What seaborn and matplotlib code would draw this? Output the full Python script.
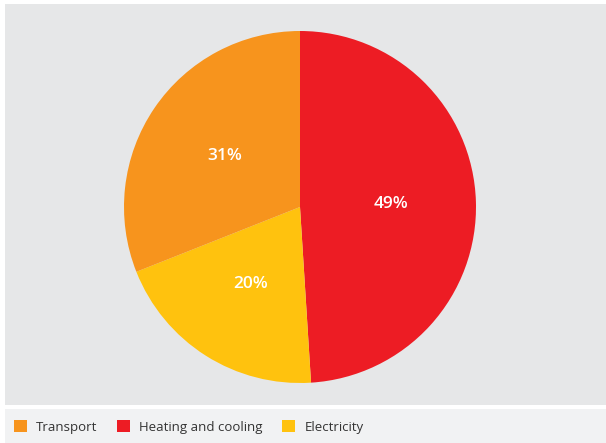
import matplotlib
matplotlib.use("Agg")
import matplotlib.pyplot as plt
from matplotlib.patches import Patch, Rectangle
import seaborn as sns

# data, in pie order (clockwise from 12 o'clock)
pie_labels = ["Heating and cooling", "Electricity", "Transport"]
pie_values = [49, 20, 31]
pie_colors = ["#ed1c24", "#ffc20e", "#f7941d"]

legend_order = ["Transport", "Heating and cooling", "Electricity"]

sns.set_theme(style="white")
plt.rcParams["font.family"] = ["Open Sans", "DejaVu Sans"]

W, H = 606, 443
fig = plt.figure(figsize=(W / 100, H / 100), dpi=100)
fig.patch.set_facecolor("white")

# legend strip background
fig.patches.append(Rectangle((5 / W, 0), 1 - 5 / W, (H - 409) / H,
                             transform=fig.transFigure, facecolor="#f1f2f3",
                             edgecolor="none", zorder=0))

# pie panel: pixels x 5..606, y 4..405
ax = fig.add_axes([5 / W, (H - 405) / H, (W - 5) / W, 401 / H])

cx, cy, r = 300, 207, 176
wedges, texts, autotexts = ax.pie(
    pie_values, colors=pie_colors, startangle=90, counterclock=False,
    autopct="%d%%", pctdistance=0.52,
    wedgeprops=dict(linewidth=0),
    textprops=dict(color="white", fontsize=12.5, fontweight="semibold"))

ax.set_frame_on(True)
ax.set_facecolor("#e6e7e8")
ax.set_aspect("auto")
ax.set_xlim((5 - cx) / r, (W - cx) / r)
ax.set_ylim(-(405 - cy) / r, (cy - 4) / r)
for s in ax.spines.values():
    s.set_visible(False)
ax.set_xticks([])
ax.set_yticks([])

color_map = dict(zip(pie_labels, pie_colors))
handles = [Patch(facecolor=color_map[l], edgecolor="none", label=l) for l in legend_order]
fig.legend(handles=handles, loc="center left", bbox_to_anchor=(2 / W, 16 / H),
           ncol=3, frameon=False, fontsize=9.5, handlelength=1.0, handleheight=1.0,
           handletextpad=0.7, columnspacing=1.45, labelcolor="#333333")

fig.savefig("out.png", dpi=100, facecolor=fig.get_facecolor())
